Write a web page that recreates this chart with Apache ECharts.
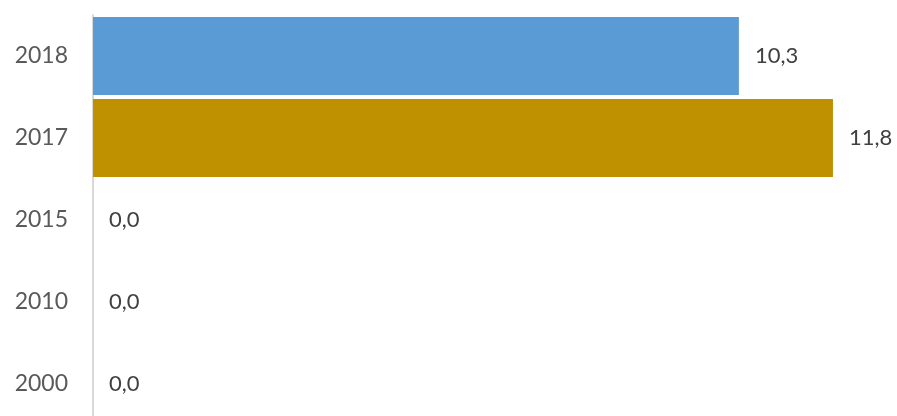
<!DOCTYPE html>
<html>
<head>
<meta charset="utf-8">
<script src="https://cdn.jsdelivr.net/npm/echarts@6/dist/echarts.min.js"></script>
<style>html,body{margin:0;padding:0;background:#fff;overflow:hidden;width:897px;height:416px;}#c{width:897px;height:425px;}</style>
</head>
<body>
<div id="c"></div>
<script>
var categories = ['2000', '2010', '2015', '2017', '2018'];
var values = [0.0, 0.0, 0.0, 11.8, 10.3];
var barColors = ['#5B9BD5', '#5B9BD5', '#5B9BD5', '#BF9000', '#5B9BD5'];

var chart = echarts.init(document.getElementById('c'));
chart.setOption({
  animation: false,
  backgroundColor: '#ffffff',
  grid: { left: 93, top: 15, right: 51.5, bottom: 0, containLabel: false },
  xAxis: {
    type: 'value', min: 0, max: 12,
    show: false
  },
  yAxis: {
    type: 'category',
    data: categories,
    axisLine: { show: true, lineStyle: { color: '#d9d9d9', width: 2 } },
    axisTick: { show: false },
    axisLabel: { color: '#595959', fontFamily: 'Lato', fontSize: 23, margin: 25 }
  },
  series: [{
    type: 'bar',
    data: values.map(function (v, i) { return { value: v, itemStyle: { color: barColors[i] } }; }),
    barCategoryGap: '4.9%',
    label: {
      show: true, position: 'right', distance: 16,
      color: '#404040', fontFamily: 'Lato', fontSize: 22,
      formatter: function (p) { return p.value.toFixed(1).replace('.', ','); }
    }
  }]
});
</script>
</body>
</html>
